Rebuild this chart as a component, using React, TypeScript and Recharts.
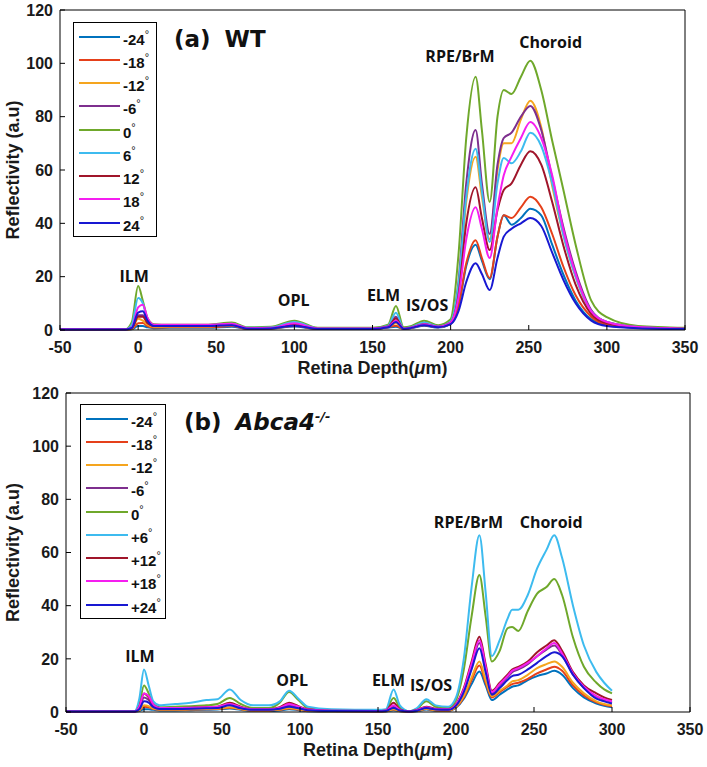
import { LineChart, Line, XAxis, YAxis, Legend, ReferenceDot } from "recharts"

// angles (legend labels)
const anglesA = ["-24", "-18", "-12", "-6", "0", "6", "12", "18", "24"]
const anglesB = ["-24", "-18", "-12", "-6", "0", "+6", "+12", "+18", "+24"]
const colors = ["#0072BD", "#E5401A", "#F5A51E", "#7E2F8E", "#6FA82B", "#3DBBEF", "#A0152A", "#F51EF0", "#1818D2"]

const xTicks = [-50, 0, 50, 100, 150, 200, 250, 300, 350]
const yTicks = [0, 20, 40, 60, 80, 100, 120]

// (a) WT: retina depth (um)
const depthA = [-50, -8, -4, 0, 3, 6, 10, 20, 45, 60, 70, 85, 100, 115, 150, 160, 165, 170, 175, 183, 192, 200, 205, 210, 216, 220, 225, 230, 234, 239, 245, 251, 258, 265, 272, 280, 290, 300, 320, 350]
const wtM24 = [0.2, 0.2, 0.3, 1.5, 1.5, 1, 0.7, 0.8, 0.8, 1.2, 0.4, 0.5, 1.3, 0.4, 0.4, 0.9, 1.2, 0.4, 0.7, 1.6, 0.9, 2.2, 8.5, 24, 32, 26, 19, 35, 43, 39.5, 42, 45.5, 43, 32, 21, 11, 4, 1.8, 0.8, 0.4]
const wtM18 = [0.2, 0.2, 0.4, 2.5, 2.6, 1.5, 0.9, 1, 1, 1.5, 0.4, 0.5, 1.5, 0.4, 0.4, 1, 1.6, 0.4, 0.8, 1.8, 1, 2.3, 9, 25, 33.7, 27, 19.5, 35, 43, 42, 46, 50, 46, 36, 24, 13, 5, 2, 0.9, 0.4]
const wtM12 = [0.2, 0.2, 0.5, 4.2, 3.5, 2, 1.2, 1.3, 1.3, 1.8, 0.6, 0.7, 1.8, 0.5, 0.5, 1.2, 2.5, 0.5, 0.9, 2, 1.1, 2.6, 15, 48, 65, 50, 34, 60, 70, 70, 79, 86, 76, 54, 36, 20, 7, 3, 1.1, 0.5]
const wtM6 = [0.2, 0.2, 0.8, 5.5, 5.5, 3, 1.6, 1.6, 1.6, 2.2, 0.7, 0.8, 2.2, 0.6, 0.6, 1.5, 5, 0.6, 1, 2.5, 1.3, 3, 18, 55, 75, 55, 36, 62, 72, 74, 80, 84, 75, 57, 39, 22, 7.5, 3, 1.2, 0.6]
const wt0 = [0.3, 0.3, 3, 16.5, 11, 4.5, 2.2, 2, 2, 2.8, 1, 1.2, 3.5, 0.8, 0.8, 2, 9, 1, 1.5, 3.5, 1.8, 4, 28, 72, 95, 75, 48, 80, 90, 88.5, 95, 101, 90, 71, 53, 32, 11, 4.8, 1.5, 0.8]
const wtP6 = [0.2, 0.2, 2, 12, 10, 4, 1.8, 1.8, 1.8, 2.3, 0.8, 0.9, 3, 0.6, 0.6, 1.6, 6.5, 0.6, 1.1, 2.8, 1.4, 3.2, 17, 50, 68, 52, 33, 55, 64.5, 62.5, 67, 74, 69, 55, 36, 20, 7, 3, 1.1, 0.5]
const wtP12 = [0.2, 0.2, 0.6, 5, 5, 2.5, 1.5, 1.5, 1.5, 2, 0.6, 0.7, 2, 0.5, 0.5, 1.3, 4.3, 0.5, 0.9, 2.2, 1.2, 2.8, 13, 40, 53.5, 42, 30, 45, 52.5, 55, 62, 67, 62, 48, 32, 17, 6, 2.5, 1, 0.5]
const wtP18 = [0.3, 0.3, 1, 8.5, 9.5, 4.5, 2, 2, 2, 2.3, 0.7, 0.8, 2.5, 0.6, 0.6, 1.2, 3.5, 0.5, 0.9, 2.2, 1.2, 2.8, 12, 34, 46, 38, 27, 46, 58, 65, 72, 78, 72, 58, 38, 21, 7, 3, 1.1, 0.5]
const wtP24 = [0.2, 0.2, 0.8, 6.5, 7, 3.5, 1.5, 1.5, 1.5, 1.8, 0.5, 0.6, 1.6, 0.4, 0.4, 1, 3, 0.4, 0.8, 1.8, 1, 2.2, 7, 18, 25, 21, 15, 27, 35, 38, 40, 42, 39, 29, 19, 10, 3.5, 1.5, 0.7, 0.4]

// (b) Abca4-/-
const depthB = [-50, -6, -3, 0, 3, 6, 10, 20, 30, 40, 47, 55, 62, 70, 80, 87, 93, 99, 105, 120, 150, 155, 160, 164, 170, 175, 181, 187, 195, 200, 205, 210, 215, 219, 223, 228, 233, 236, 240, 246, 252, 258, 263, 268, 275, 282, 290, 295, 300]
const abM24 = [0.2, 0.2, 0.4, 1, 1, 0.8, 0.6, 0.6, 0.7, 0.8, 0.9, 1.3, 0.8, 0.4, 0.4, 0.6, 1, 0.7, 0.3, 0.2, 0.2, 0.2, 0.7, 0.3, 0.1, 0.3, 0.9, 0.5, 0.4, 1.6, 5, 10.5, 15.2, 10, 4.5, 6.5, 8.5, 9.5, 10, 12, 13.5, 14.5, 15.5, 14, 9, 5.5, 3.2, 2.3, 1.8]
const abM18 = [0.2, 0.2, 0.6, 2, 1.8, 1.1, 0.8, 0.8, 0.9, 1, 1.1, 1.6, 1, 0.5, 0.5, 0.8, 1.3, 0.9, 0.4, 0.3, 0.2, 0.3, 0.9, 0.4, 0.1, 0.4, 1.1, 0.6, 0.5, 1.8, 5.5, 12, 17.5, 11, 5.5, 7.5, 9.5, 10.5, 11, 12.5, 14.5, 16, 17, 15.5, 10, 6.2, 3.6, 2.7, 2.2]
const abM12 = [0.2, 0.2, 0.7, 2.5, 2.2, 1.3, 0.9, 0.9, 1, 1.1, 1.2, 1.8, 1.1, 0.6, 0.6, 0.9, 1.5, 1, 0.5, 0.3, 0.2, 0.3, 1, 0.4, 0.1, 0.4, 1.2, 0.7, 0.6, 2, 6, 13, 19, 12, 6, 8, 10, 11.5, 12, 14, 16.5, 18, 19, 17, 11, 7, 4, 3, 2.5]
const abM6 = [0.2, 0.2, 1.5, 5.5, 4.5, 2.2, 1.3, 1.3, 1.4, 1.6, 1.8, 2.8, 1.6, 0.9, 0.9, 1.4, 2.5, 1.7, 0.8, 0.4, 0.3, 0.5, 2, 0.7, 0.2, 0.6, 1.6, 1, 0.9, 2.6, 8, 17.5, 26, 16.5, 7, 10, 13, 15, 16, 18, 21, 23.5, 25, 21.5, 14, 9, 5.8, 4.6, 3.8]
const ab0 = [0.3, 0.3, 3, 10, 7, 3, 1.8, 2, 2.2, 2.5, 3, 5.3, 3, 1.5, 1.5, 3.5, 7.5, 4.5, 1.5, 0.6, 0.5, 0.8, 5.3, 1.8, 0.3, 1.2, 4, 2, 1.5, 4.5, 16, 36, 51.5, 36, 19, 23, 31.5, 32, 30.5, 38, 44.5, 47, 50, 44, 28, 17, 11, 8.5, 7]
const abP6 = [0.3, 0.3, 5, 16, 10, 4, 2.5, 3, 3.5, 4.5, 4.8, 8.5, 4.5, 2.5, 2.5, 4, 8, 5, 2, 1, 0.8, 1, 8.5, 2.5, 0.3, 1.5, 4.8, 2.5, 2, 5.5, 20, 47, 66.5, 45, 21, 27, 35, 38.5, 38.5, 44, 54, 61, 66.5, 58, 40, 25, 15, 11, 8]
const abP12 = [0.2, 0.2, 2, 7, 5.5, 2.5, 1.5, 1.5, 1.6, 1.8, 2, 3.5, 2, 1, 1, 1.8, 3.5, 2.2, 1, 0.5, 0.4, 0.6, 3.5, 1, 0.2, 0.8, 2, 1.2, 1, 3, 9, 19, 28.3, 18, 8, 11, 14, 16, 17, 19, 22.5, 25, 27, 23, 15, 10, 7, 5.5, 4.5]
const abP18 = [0.2, 0.2, 2, 7, 6, 2.8, 1.5, 1.5, 1.6, 1.8, 2, 3, 1.8, 1, 1, 1.6, 3, 2, 0.9, 0.5, 0.4, 0.6, 2.5, 0.8, 0.2, 0.7, 1.8, 1.1, 1, 2.8, 8.5, 18, 27, 17, 7.5, 10.5, 13.5, 15.5, 16.5, 18.5, 21, 24, 26, 22, 14.5, 9.5, 6, 4.8, 4]
const abP24 = [0.2, 0.2, 1, 4, 3.5, 1.8, 1.1, 1.1, 1.2, 1.4, 1.5, 2.5, 1.4, 0.8, 0.8, 1.2, 2, 1.4, 0.7, 0.4, 0.3, 0.4, 1.5, 0.6, 0.2, 0.5, 1.5, 0.9, 0.8, 2.4, 7.5, 16, 24, 15, 6.5, 9, 12, 13.5, 14, 16, 18.5, 21, 22.5, 21, 14, 9, 5, 4, 3.2]

const notesA = [
  { text: "ILM", x: -2.5, y: 20 },
  { text: "OPL", x: 99.5, y: 11.2 },
  { text: "ELM", x: 157, y: 13.1 },
  { text: "IS/OS", x: 185, y: 9.4 },
  { text: "RPE/BrM", x: 206, y: 102.7 },
  { text: "Choroid", x: 264, y: 108 },
]
const notesB = [
  { text: "ILM", x: -2.6, y: 21 },
  { text: "OPL", x: 95, y: 12 },
  { text: "ELM", x: 156.7, y: 12 },
  { text: "IS/OS", x: 184, y: 10 },
  { text: "RPE/BrM", x: 208, y: 71.5 },
  { text: "Choroid", x: 261, y: 71.5 },
]

const tickFont = { fill: "#1a1a1a", fontSize: 16, fontWeight: 700, fontFamily: "Liberation Sans, Arial, sans-serif" }
const noteFont = "Open Sans, sans-serif"

function AngleLegend({ names, width, lineLen }: { names: string[]; width: number; lineLen: number }) {
  return (
    <div style={{ border: "1px solid #000", background: "#fff", width, padding: "2px 0", boxSizing: "border-box" }}>
      {names.map((n, i) => (
        <div key={n} style={{ display: "flex", alignItems: "center", height: 23.25 }}>
          <span style={{ display: "inline-block", width: lineLen, height: 2, background: colors[i], marginLeft: 5 }} />
          <span style={{ marginLeft: 3, font: "bold 15px 'Liberation Sans', Arial, sans-serif", color: "#111", lineHeight: "15px" }}>
            {n}
            <sup style={{ fontSize: 11, fontWeight: 400, verticalAlign: 7 }}>°</sup>
          </span>
        </div>
      ))}
    </div>
  )
}

type Frame = { height: number; top: number; left: number; right: number; legendLeft: number; legendTop: number; legendW: number; lineLen: number }

function Panel({ depth, series, names, notes, title, titleAt, frame }: {
  depth: number[]
  series: number[][]
  names: string[]
  notes: { text: string; x: number; y: number }[]
  title: "a" | "b"
  titleAt: { x: number; y: number }
  frame: Frame
}) {
  const rows = depth.map((x, i) => {
    const row: Record<string, number> = { x }
    series.forEach((s, k) => (row[`s${k}`] = s[i]))
    return row
  })
  const bottom = frame.height - 330

  return (
    <LineChart width={707} height={frame.height} data={rows} margin={{ top: frame.top - 1, right: frame.right - 1, bottom: 0, left: 0 }}>
      <XAxis
        xAxisId="b"
        dataKey="x"
        type="number"
        domain={[-50, 350]}
        ticks={xTicks}
        interval={0}
        allowDataOverflow
        height={bottom}
        tickSize={-5}
        tickMargin={17}
        stroke="#000"
        tick={tickFont}
        label={{
          content: ({ viewBox }: any) => (
            <text x={viewBox.x + viewBox.width / 2} y={viewBox.y + 44} textAnchor="middle" fontSize={18} fontWeight={700} fontFamily="Liberation Sans, Arial, sans-serif" fill="#1a1a1a">
              Retina Depth(<tspan fontStyle="italic">μ</tspan>m)
            </text>
          ),
        }}
      />
      <XAxis xAxisId="t" orientation="top" dataKey="x" type="number" domain={[-50, 350]} ticks={xTicks} interval={0} allowDataOverflow height={1} tickSize={-5} tick={false} stroke="#000" />
      <YAxis
        yAxisId="l"
        type="number"
        domain={[0, 120]}
        ticks={yTicks}
        interval={0}
        width={frame.left}
        tickSize={-5}
        tickMargin={12}
        stroke="#000"
        tick={tickFont}
        label={{
          content: ({ viewBox }: any) => {
            const cx = 13
            const cy = viewBox.y + viewBox.height / 2
            return (
              <text x={cx} y={cy} transform={`rotate(-90, ${cx}, ${cy})`} textAnchor="middle" dominantBaseline="central" fontSize={18} fontWeight={700} fontFamily="Liberation Sans, Arial, sans-serif" fill="#1a1a1a">
                Reflectivity (a.u)
              </text>
            )
          },
        }}
      />
      <YAxis yAxisId="r" orientation="right" type="number" domain={[0, 120]} ticks={yTicks} interval={0} width={1} tickSize={-5} tick={false} stroke="#000" />
      <Legend
        layout="vertical"
        align="center"
        verticalAlign="middle"
        wrapperStyle={{ left: frame.legendLeft, top: frame.legendTop, width: frame.legendW }}
        content={() => <AngleLegend names={names} width={frame.legendW} lineLen={frame.lineLen} />}
      />
      {series.map((_, k) => (
        <Line
          key={k}
          xAxisId="b"
          yAxisId="l"
          type="monotone"
          dataKey={`s${k}`}
          name={names[k]}
          stroke={colors[k]}
          strokeWidth={2}
          dot={false}
          isAnimationActive={false}
        />
      ))}
      {notes.map((n) => (
        <ReferenceDot
          key={n.text}
          xAxisId="b"
          yAxisId="l"
          x={n.x}
          y={n.y}
          r={1}
          fill="none"
          stroke="none"
          label={{ value: n.text, position: "center", fill: "#111", fontSize: 16, fontWeight: 700, fontFamily: noteFont }}
        />
      ))}
      <ReferenceDot
        xAxisId="b"
        yAxisId="l"
        x={titleAt.x}
        y={titleAt.y}
        r={1}
        fill="none"
        stroke="none"
        label={{
          content: ({ viewBox }: any) => (
            <text x={viewBox.x} y={viewBox.y + 8} fontSize={23} fontWeight={700} fontFamily="DejaVu Sans, sans-serif" fill="#111">
              {title === "a" ? (
                <>
                  (a)<tspan dx={14}>WT</tspan>
                </>
              ) : (
                <>
                  (b)
                  <tspan dx={14} fontStyle="italic">Abca4</tspan>
                  <tspan fontStyle="italic" fontSize={13} dy={-9}>-/-</tspan>
                </>
              )}
            </text>
          ),
        }}
      />
    </LineChart>
  )
}

export default function App() {
  const seriesA = [wtM24, wtM18, wtM12, wtM6, wt0, wtP6, wtP12, wtP18, wtP24]
  const seriesB = [abM24, abM18, abM12, abM6, ab0, abP6, abP12, abP18, abP24]
  return (
    <div style={{ position: "absolute", left: 0, top: 0, width: 707, height: 767, background: "#fff" }}>
      <Panel
        depth={depthA}
        series={seriesA}
        names={anglesA}
        notes={notesA}
        title="a"
        titleAt={{ x: 23.6, y: 108.7 }}
        frame={{ height: 382, top: 10, left: 60, right: 22, legendLeft: 73, legendTop: 22, legendW: 84, lineLen: 41 }}
      />
      <Panel
        depth={depthB}
        series={seriesB}
        names={anglesB}
        notes={notesB}
        title="b"
        titleAt={{ x: 26.3, y: 108.7 }}
        frame={{ height: 385, top: 11, left: 66, right: 17, legendLeft: 80, legendTop: 22, legendW: 86, lineLen: 42 }}
      />
    </div>
  )
}
